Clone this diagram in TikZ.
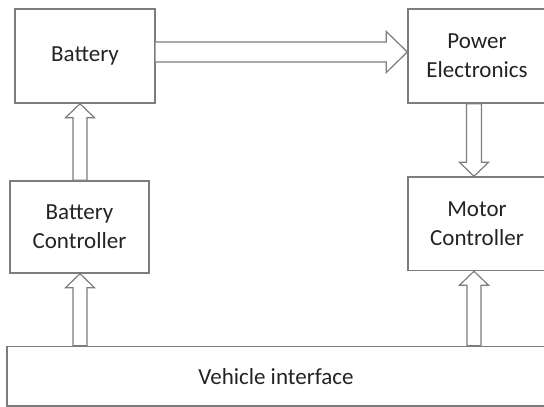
\documentclass[tikz,border=0pt]{standalone}
\usepackage{fontspec}
\setmainfont{Carlito}
\usetikzlibrary{calc}
\definecolor{edge}{RGB}{125,125,125}
\definecolor{ink}{RGB}{35,35,35}
\tikzset{
  blk/.style={draw=edge, line width=1.4pt, rectangle, inner sep=0pt, align=center,
    text=ink, font=\fontsize{23pt}{29pt}\selectfont},
  arr/.style={draw=edge, line width=1.2pt, fill=white, line join=miter},
}
\newcommand\uparr[3]{%
  \draw[arr] ($(#2 -| #1)+(-7,0)$) -- ($(#3 -| #1)+(-7,-14)$) -- ($(#3 -| #1)+(-14.5,-14)$)
    -- (#3 -| #1) -- ($(#3 -| #1)+(14.5,-14)$) -- ($(#3 -| #1)+(7,-14)$) -- ($(#2 -| #1)+(7,0)$) -- cycle;}
\newcommand\downarr[3]{%
  \draw[arr] ($(#2 -| #1)+(-7.5,0)$) -- ($(#3 -| #1)+(-7.5,14)$) -- ($(#3 -| #1)+(-14.5,14)$)
    -- (#3 -| #1) -- ($(#3 -| #1)+(14.5,14)$) -- ($(#3 -| #1)+(7.5,14)$) -- ($(#2 -| #1)+(7.5,0)$) -- cycle;}
\begin{document}
\begin{tikzpicture}[x=1pt,y=1pt]
\useasboundingbox (0,0) rectangle (544,-407);
\clip (0,0) rectangle (544,-407);
\node[blk, minimum width=140pt, minimum height=94pt] (bat) at (85,-56) {Battery};
\node[blk, minimum width=139pt, minimum height=92pt] (bc) at (79.5,-227) {Battery\\Controller};
\node[blk, minimum width=138pt, minimum height=94pt] (pe) at (477,-56) {Power\\Electronics};
\node[blk, minimum width=138pt, minimum height=93.5pt] (mc) at (477,-223.75) {Motor\\Controller};
\node[blk, minimum width=538pt, minimum height=59.5pt] (vi) at (276,-376.25) {Vehicle interface};
\coordinate (lx) at (80,0);
\coordinate (rx) at (474,0);
\coordinate (hy) at (0,-52);
% horizontal arrow Battery -> Power Electronics
\draw[arr] ($(bat.east |- hy)+(0,10)$) -- ($(pe.west |- hy)+(-21,10)$) -- ($(pe.west |- hy)+(-21,20.5)$)
  -- (pe.west |- hy) -- ($(pe.west |- hy)+(-21,-20.5)$) -- ($(pe.west |- hy)+(-21,-10)$)
  -- ($(bat.east |- hy)+(0,-10)$);
\uparr{lx}{bc.north}{bat.south}
\uparr{lx}{vi.north}{bc.south}
\uparr{rx}{vi.north}{mc.south}
\downarr{rx}{pe.south}{mc.north}
\end{tikzpicture}
\end{document}
